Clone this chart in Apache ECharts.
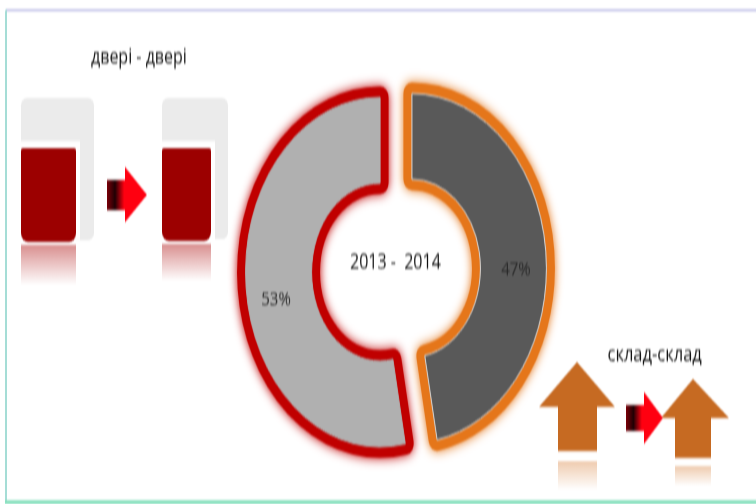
<!DOCTYPE html>
<html><head><meta charset="utf-8">
<style>html,body{margin:0;padding:0;background:#fff;width:756px;height:504px;overflow:hidden}
#c{width:756px;height:388px;transform-origin:0 0;transform:scale(1,1.29897);filter:blur(0.7px)}</style>
<script src="https://cdn.jsdelivr.net/npm/echarts@6/dist/echarts.min.js"></script>
</head><body><div id="c"></div>
<script>
const categories = ['склад-склад', 'двері - двері'];
const shares = [47, 53];
const centerLabel = '2013 -  2014';
const sliceFill = ['#595959', '#b0b0b0'];
const sliceRim = ['#e5761a', '#c00000'];
const sliceEdge = ['#d8d8d8', '#b0b0b0'];

const S = 504 / 388;
const Y = v => v / S;
const chart = echarts.init(document.getElementById('c'), null, {renderer: 'canvas'});
const rect = (x0, y0, x1, y1, fill, r, z) => ({type: 'rect', z: z || 1, silent: true,
  shape: {x: x0, y: Y(y0), width: x1 - x0, height: Y(y1) - Y(y0), r: r || 0}, style: {fill}});
const poly = (pts, fill, z) => ({type: 'polygon', z: z || 1, silent: true,
  shape: {points: pts.map(p => [p[0], Y(p[1])])}, style: {fill}});
const fade = c => new echarts.graphic.LinearGradient(0, 0, 0, 1, [{offset: 0, color: c}, {offset: 1, color: '#ffffff'}]);
const side = () => new echarts.graphic.LinearGradient(0, 0, 1, 0, [
  {offset: 0, color: '#7a0008'}, {offset: 0.2, color: '#200004'}, {offset: 0.43, color: '#ff0010'}, {offset: 1, color: '#ff0010'}]);
const door = (x0, x1, xr, bottom, reflEnd) => [
  rect(x0, 98, x1, bottom, '#ebebeb', 6),
  rect(x0, 141, xr + 4, bottom, '#ffffff', 0),
  rect(xr + 4, 141, x1 - 0, bottom, '#ebebeb', [0, 0, 6, 0]),
  rect(x0, 148, xr, bottom + 2, '#9c0000', [2, 2, 7, 7]),
  rect(x0, bottom + 5, xr, reflEnd, fade('#d98f8f'), 0)
];
const redArrow = (x0, xm, x1, sTop, sBot, hTop, hBot, cy) =>
  poly([[x0, sTop], [xm, sTop], [xm, hTop], [x1, cy], [xm, hBot], [xm, sBot], [x0, sBot]], side(), 3);
const upArrow = (cx, top, wy, wl, wr, sl, sr, bot, rTop, rBot) => [
  poly([[cx, top], [wr, wy], [sr, wy], [sr, bot], [sl, bot], [sl, wy], [wl, wy]], '#c66a22', 2),
  rect(sl, rTop, sr, rBot, fade('#efcbae'), 0)
];
const text = (t, left, top, size) => ({text: t, left, top: Y(top),
  textStyle: {fontFamily: 'Open Sans', fontSize: size, fontWeight: 'normal', color: '#111111'}});

chart.setOption({
  animation: false,
  backgroundColor: '#ffffff',
  title: [
    text(categories[1], 86, 41, 16),
    text(categories[0], 602.5, 337, 16.5),
    text(centerLabel, 345, 246, 16)
  ],
  graphic: {elements: [
    rect(6, 9, 756, 11, '#b9b9e6'),
    rect(5, 10, 7, 502, '#a5ddd6'),
    rect(5, 500, 756, 504, '#86e0bd'),
    ...door(21, 94, 76, 240, 285),
    ...door(162, 228, 211, 239, 281),
    redArrow(107, 125, 147, 180, 210, 167, 222, 195),
    ...upArrow(577, 362, 407, 539, 615, 558, 597, 451, 461, 490),
    ...upArrow(693, 379, 418, 661, 729, 675, 711, 458, 466, 486),
    redArrow(626, 644, 663, 405, 431, 392, 444, 418)
  ]},
  series: [{
    type: 'pie', z: 2, center: [396, 208], radius: [68.5, 134.5], startAngle: 90,
    selectedMode: 'multiple', selectedOffset: 16, silent: true, label: {show: false}, labelLine: {show: false},
    data: shares.map((v, i) => ({value: v, name: categories[i], selected: true,
      itemStyle: {color: sliceFill[i], borderColor: sliceRim[i], borderWidth: 17, borderJoin: 'round',
        shadowColor: sliceRim[i], shadowBlur: 8}}))
  }, {
    type: 'pie', z: 3, center: [396, 208], radius: [68.5, 134.5], startAngle: 90,
    selectedMode: 'multiple', selectedOffset: 16, silent: true,
    label: {show: true, position: 'inside', formatter: '{c}%', color: '#2a2a2a', fontFamily: 'Open Sans', fontSize: 15},
    labelLayout: {dy: 11},
    labelLine: {show: false},
    data: shares.map((v, i) => ({value: v, name: categories[i], selected: true,
      itemStyle: {color: sliceFill[i], borderColor: sliceEdge[i], borderWidth: 1}}))
  }]
});
</script></body></html>
